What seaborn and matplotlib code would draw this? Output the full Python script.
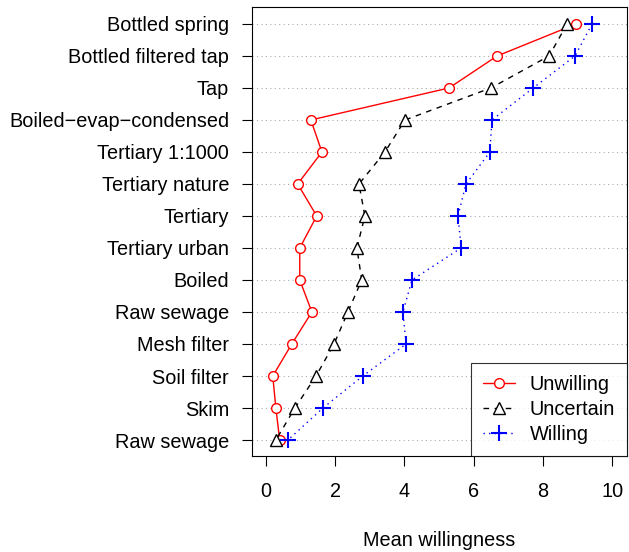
import pandas as pd
import matplotlib
matplotlib.use("Agg")
import matplotlib.pyplot as plt
import seaborn as sns

# categories, top to bottom as shown
categories = ["Bottled spring", "Bottled filtered tap", "Tap", "Boiled\u2212evap\u2212condensed",
              "Tertiary 1:1000", "Tertiary nature", "Tertiary", "Tertiary urban", "Boiled",
              "Raw sewage", "Mesh filter", "Soil filter", "Skim", "Raw sewage"]

unwilling = [8.96, 6.68, 5.29, 1.30, 1.62, 0.92, 1.47, 0.98, 0.98, 1.33, 0.75, 0.20, 0.29, 0.40]
uncertain = [8.70, 8.18, 6.50, 4.02, 3.44, 2.69, 2.86, 2.63, 2.77, 2.37, 1.97, 1.45, 0.84, 0.29]
willing = [9.42, 8.93, 7.72, 6.53, 6.47, 5.78, 5.55, 5.64, 4.22, 3.96, 4.05, 2.80, 1.65, 0.64]

sns.set_style("white")
plt.rcParams["font.family"] = ["Liberation Sans", "DejaVu Sans"]
plt.rcParams["text.color"] = "black"
plt.rcParams["xtick.color"] = "black"
plt.rcParams["ytick.color"] = "black"
plt.rcParams["axes.labelcolor"] = "black"

FS = 14.3
n = len(categories)
pos = list(range(n, 0, -1))

fig = plt.figure(figsize=(6.29, 5.52), dpi=100)
ax = fig.add_axes([0.4006, 0.1739, 0.5962, 0.8134])

# dotted row guides
for p in pos:
    ax.axhline(p, color="#aaaaaa", lw=0.8, ls=(0, (1, 3)), zorder=0)

series = [
    ("Unwilling", unwilling, "red", "-", "o", 7, 1.0),
    ("Uncertain", uncertain, "black", (0, (4, 4)), "^", 8, 1.0),
    ("Willing", willing, "blue", (0, (1, 3)), "+", 11, 1.5),
]
for name, vals, col, ls, mk, ms, mew in series:
    df = pd.DataFrame({"value": vals, "pos": pos})
    sns.lineplot(data=df, x="value", y="pos", orient="y", sort=False, estimator=None,
                 color=col, linestyle=ls, marker=mk, markersize=ms,
                 markerfacecolor="white" if mk != "+" else col,
                 markeredgecolor=col, markeredgewidth=mew, lw=1.0,
                 label=name, ax=ax)

ax.set_xlim(-0.4, 10.43)
ax.set_ylim(0.5, 14.53)
ax.set_xticks([0, 2, 4, 6, 8, 10])
ax.set_yticks(pos)
ax.set_yticklabels(categories)
ax.tick_params(axis="x", length=7.5, width=0.8, pad=11, labelsize=FS, direction="out")
ax.tick_params(axis="y", length=7.5, width=0.8, pad=9, labelsize=FS, direction="out")
ax.xaxis.set_ticks_position("bottom")
ax.yaxis.set_ticks_position("left")
for s in ax.spines.values():
    s.set_color("black")
    s.set_linewidth(0.8)
ax.set_xlabel("Mean willingness", fontsize=FS, labelpad=22)
ax.set_ylabel("")

leg = ax.legend(loc="lower right", fontsize=FS, frameon=True, fancybox=False,
                edgecolor="black", borderaxespad=0, handlelength=1.6,
                handletextpad=0.75, borderpad=0.6, labelspacing=0.3)
leg.get_frame().set_linewidth(0.8)

fig.savefig("out.png", dpi=100)
